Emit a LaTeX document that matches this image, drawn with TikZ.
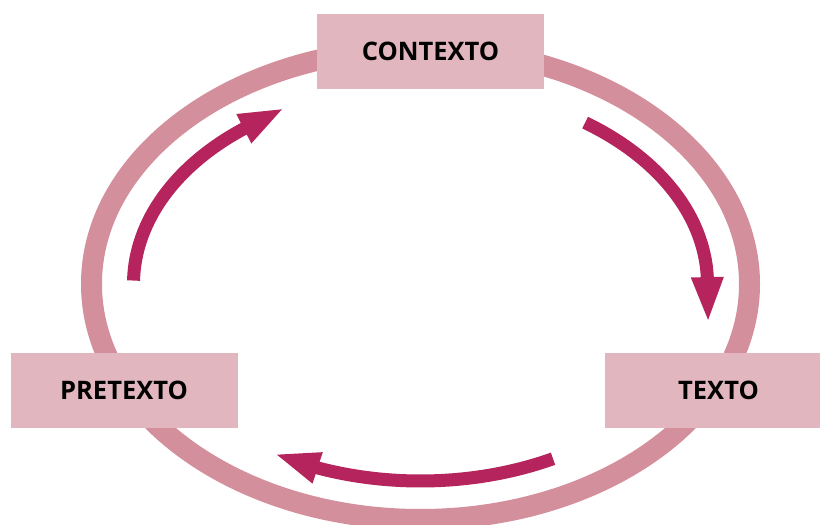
\documentclass[tikz,border=0pt]{standalone}
\usepackage{fontspec}
\setmainfont{Open Sans}
\usetikzlibrary{arrows.meta}
\definecolor{ringpink}{HTML}{D48F9C}
\definecolor{boxpink}{HTML}{E2B6BE}
\definecolor{arrowred}{HTML}{B5245C}
\begin{document}
\begin{tikzpicture}[x=1pt,y=1pt,
  ring/.style={draw=ringpink,line width=21pt},
  stage/.style={fill=boxpink,minimum width=227pt,minimum height=75pt,inner sep=0pt,
    font=\fontsize{25.5}{30}\selectfont\bfseries,text=black},
  cyc/.style={draw=arrowred,line width=13pt,
    -{Triangle[length=46pt,width=29pt]}}]
\useasboundingbox (0,0) rectangle (820,525);
\clip (0,0) rectangle (820,525);
\coordinate (c) at (420.5,241);
% outer cycle ring
\draw[ring] (c) ellipse[x radius=329,y radius=235.5];
% the three stages
\node[stage] (contexto) at (430.5,473.5) {CONTEXTO};
\node[stage] (pretexto) at (124,134.5) {PRETEXTO};
\node[stage] (texto) at (718.5,134.5) {TEXTO};
% curved arrows running clockwise inside the ring: an arc, then a
% straight tangent piece that carries the head
\draw[cyc] ([shift={(179:287 and 197)}]c) arc[start angle=179,end angle=128,x radius=287,y radius=197] -- ++(27:46);
\draw[cyc] ([shift={(55:287 and 197)}]c) arc[start angle=55,end angle=2,x radius=287,y radius=197] -- ++(-89:46);
\draw[cyc] ([shift={(-62.5:287 and 197)}]c) arc[start angle=-62.5,end angle=-111,x radius=287,y radius=197] -- ++(162:46);
\end{tikzpicture}
\end{document}
